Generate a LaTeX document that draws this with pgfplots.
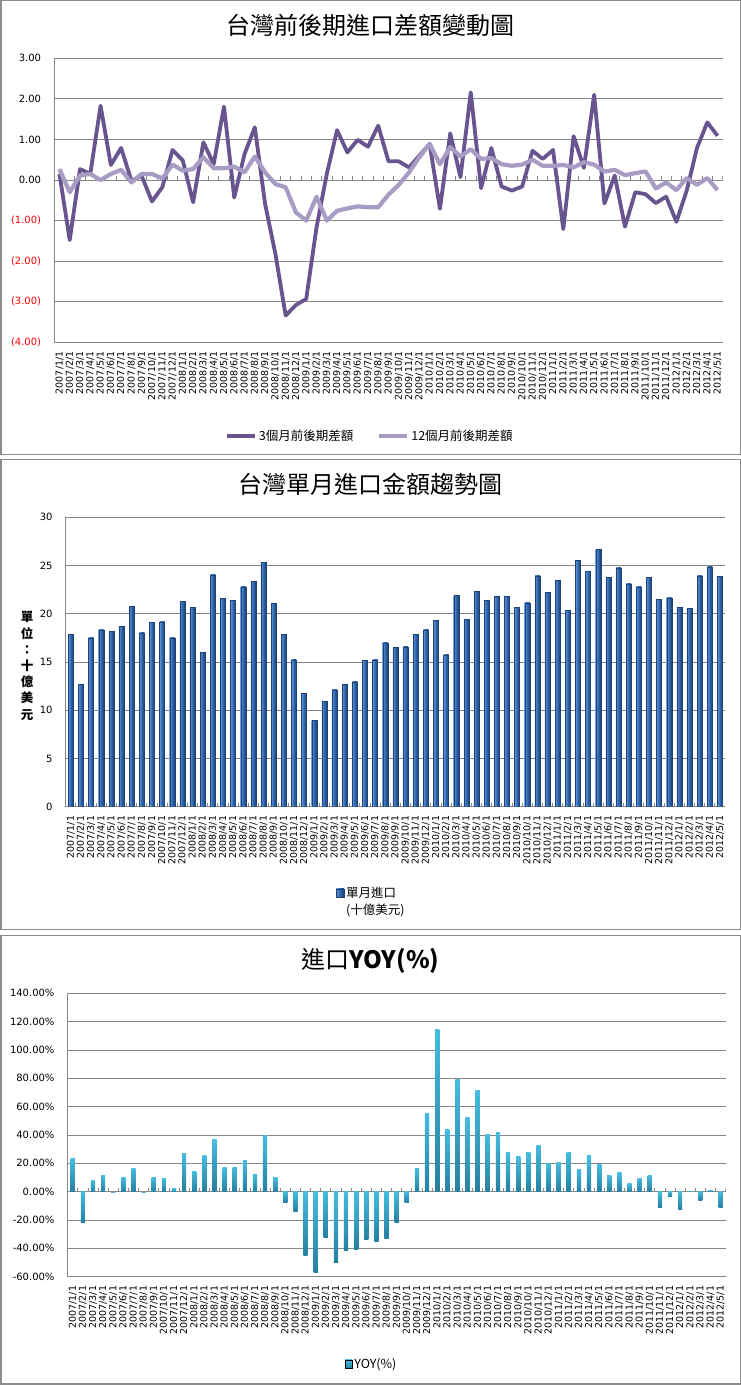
\documentclass[border=0pt]{standalone}
\usepackage{fontspec}
\usepackage{pgfplots}
\usepackage{pgfplotstable}
\pgfplotsset{compat=1.18}
\setmainfont{DejaVu Sans}
\newfontfamily\cjk{Noto Sans CJK TC}
\definecolor{gridgray}{HTML}{878787}
\definecolor{frameg}{HTML}{8C8C8C}
\definecolor{darkline}{HTML}{68548F}
\definecolor{lightline}{HTML}{A99CC4}
\definecolor{bluehi}{HTML}{6294D8}
\definecolor{bluelo}{HTML}{1C4276}
\definecolor{bluemid}{HTML}{2F64AA}
\definecolor{cyantop}{HTML}{45BCE0}
\definecolor{cyanbot}{HTML}{2580A0}

\pgfplotstableread{
idx d3 d12 imp yoy
0 0.15 0.27 17.90 23.1
1 -1.48 -0.30 12.70 -21.6
2 0.27 0.11 17.50 7.8
3 0.15 0.15 18.35 11.3
4 1.83 0.00 18.15 -0.9
5 0.37 0.15 18.67 9.9
6 0.79 0.25 20.74 16.2
7 -0.02 -0.06 18.04 -0.9
8 0.10 0.15 19.08 9.9
9 -0.53 0.15 19.15 9.2
10 -0.18 0.04 17.52 2.1
11 0.74 0.38 21.26 26.8
12 0.48 0.23 20.64 14.1
13 -0.55 0.27 15.97 25.4
14 0.93 0.56 24.02 36.7
15 0.39 0.29 21.57 16.9
16 1.81 0.29 21.40 16.9
17 -0.43 0.33 22.81 21.9
18 0.64 0.19 23.33 12.0
19 1.30 0.58 25.34 39.3
20 -0.59 0.19 21.05 9.9
21 -1.82 -0.10 17.84 -7.5
22 -3.34 -0.18 15.21 -13.9
23 -3.08 -0.80 11.72 -44.9
24 -2.93 -1.00 8.92 -56.9
25 -1.17 -0.41 10.89 -32.2
26 0.15 -1.00 12.13 -49.9
27 1.23 -0.76 12.69 -41.2
28 0.68 -0.70 12.96 -40.5
29 0.99 -0.65 15.17 -34.1
30 0.82 -0.67 15.24 -35.1
31 1.34 -0.67 17.00 -32.9
32 0.46 -0.36 16.49 -21.6
33 0.46 -0.12 16.59 -7.5
34 0.31 0.19 17.84 16.7
35 0.60 0.56 18.35 55.5
36 0.89 0.89 19.29 114.4
37 -0.71 0.39 15.76 44.2
38 1.15 0.81 21.88 79.1
39 0.07 0.58 19.39 52.2
40 2.16 0.76 22.30 71.1
41 -0.20 0.52 21.36 40.0
42 0.79 0.54 21.78 42.1
43 -0.16 0.39 21.78 27.3
44 -0.26 0.35 20.64 24.5
45 -0.16 0.38 21.15 27.3
46 0.72 0.50 23.92 32.9
47 0.52 0.35 22.19 20.2
48 0.74 0.35 23.44 20.9
49 -1.21 0.37 20.33 28.0
50 1.08 0.31 25.51 16.0
51 0.30 0.44 24.37 25.2
52 2.10 0.38 26.65 19.3
53 -0.58 0.21 23.75 11.1
54 0.11 0.25 24.78 13.2
55 -1.15 0.12 23.12 5.6
56 -0.30 0.17 22.81 9.6
57 -0.35 0.21 23.75 11.1
58 -0.57 -0.21 21.47 -11.1
59 -0.41 -0.06 21.67 -3.1
60 -1.03 -0.25 20.64 -12.5
61 -0.26 0.05 20.53 0.7
62 0.79 -0.12 23.92 -6.1
63 1.42 0.05 24.85 1.2
64 1.09 -0.25 23.85 -11.1
}\data

\pgfplotsset{common/.style={
  scale only axis, anchor=south west,
  xmin=-0.5, xmax=64.5,
  axis x line*=bottom, axis y line*=left,
  axis line style={draw=gridgray, line width=0.8pt, -},
  ymajorgrids, major grid style={draw=gridgray, line width=0.8pt},
  major tick length=0pt,
  xtick={0,...,64},
  xticklabels={2007/1/1,2007/2/1,2007/3/1,2007/4/1,2007/5/1,2007/6/1,2007/7/1,2007/8/1,2007/9/1,2007/10/1,2007/11/1,2007/12/1,
    2008/1/1,2008/2/1,2008/3/1,2008/4/1,2008/5/1,2008/6/1,2008/7/1,2008/8/1,2008/9/1,2008/10/1,2008/11/1,2008/12/1,
    2009/1/1,2009/2/1,2009/3/1,2009/4/1,2009/5/1,2009/6/1,2009/7/1,2009/8/1,2009/9/1,2009/10/1,2009/11/1,2009/12/1,
    2010/1/1,2010/2/1,2010/3/1,2010/4/1,2010/5/1,2010/6/1,2010/7/1,2010/8/1,2010/9/1,2010/10/1,2010/11/1,2010/12/1,
    2011/1/1,2011/2/1,2011/3/1,2011/4/1,2011/5/1,2011/6/1,2011/7/1,2011/8/1,2011/9/1,2011/10/1,2011/11/1,2011/12/1,
    2012/1/1,2012/2/1,2012/3/1,2012/4/1,2012/5/1},
  xticklabel style={rotate=90, anchor=east, inner xsep=9pt, inner ysep=0pt, font=\fontsize{9.5}{10}\selectfont},
  yticklabel style={anchor=east, inner xsep=13pt, font=\fontsize{10}{12}\selectfont},
  legend style={draw=none, fill=none, font=\cjk\fontsize{12.5}{14}\selectfont, inner sep=0pt},
}}

\begin{document}
\begin{tikzpicture}[x=1pt,y=1pt]
\path[use as bounding box] (0,0) rectangle (741,1385);
\draw[frameg, line width=1.5pt] (0.75,930.5) rectangle (740.25,1384.25);
\draw[frameg, line width=1.5pt] (0.75,455.5) rectangle (740.25,925.5);
\draw[frameg, line width=1.5pt] (0.75,0.75) rectangle (740.25,449.5);

\node[font=\cjk\fontsize{24}{26}\selectfont] at (370.5,1360) {台灣前後期進口差額變動圖};
\node[font=\cjk\fontsize{24}{26}\selectfont] at (370.5,901) {台灣單月進口金額趨勢圖};
\node[font=\cjk\fontsize{24}{26}\selectfont] at (370.5,424) {進口\textbf{YOY(\%)}};
\node[font=\cjk\bfseries\fontsize{12.5}{16.2}\selectfont, align=center] at (27,719) {單\\位\\：\\十\\億\\美\\元};
\node[font=\cjk\fontsize{12.5}{14}\selectfont, anchor=west, inner sep=0pt] at (346,475) {(十億美元)};

% Panel 1
\begin{axis}[common, at={(54.3pt,1042.7pt)}, width=668.4pt, height=284pt,
  ymin=-4, ymax=3, ytick={-4,...,3},
  yticklabels={\textcolor{red}{(4.00)},\textcolor{red}{(3.00)},\textcolor{red}{(2.00)},\textcolor{red}{(1.00)},0.00,1.00,2.00,3.00},
  legend columns=2,
  legend style={at={(0.472,-0.33)}, anchor=center, /tikz/every even column/.append style={column sep=22pt}},
]
\pgfplotsinvokeforeach{-0.5,0.5,...,64.5}{\draw[gridgray, line width=0.8pt] (axis cs:#1,0) -- ++(0pt,4pt);}
\addplot[no markers, color=darkline, line width=3.8pt, line join=round,
  legend image code/.code={\draw[darkline, line width=4pt] (0pt,0pt) -- (28pt,0pt);}]
  table[x=idx, y=d3]{\data};
\addlegendentry{3個月前後期差額}
\addplot[no markers, color=lightline, line width=4.2pt, line join=round,
  legend image code/.code={\draw[lightline, line width=4pt] (0pt,0pt) -- (28pt,0pt);}]
  table[x=idx, y=d12]{\data};
\addlegendentry{12個月前後期差額}
\end{axis}

% Panel 2
\begin{axis}[common, at={(65.7pt,578.3pt)}, width=659.3pt, height=289.4pt,
  ymin=0, ymax=30, ytick={0,5,...,30},
  yticklabels={0,5,10,15,20,25,30},
  legend style={at={(0.457,-0.298)}, anchor=center},
]
\pgfplotsinvokeforeach{-0.5,0.5,...,64.5}{\draw[gridgray, line width=0.8pt] (axis cs:#1,0) -- ++(0pt,4pt);}
\pgfplotsinvokeforeach{0,...,64}{
\addplot[ybar, bar shift=0pt, bar width=5pt, draw=bluelo, line width=0.3pt,
  left color=bluehi, right color=bluelo, middle color=bluemid, forget plot,
  restrict x to domain=#1:#1]
  table[x=idx, y=imp]{\data};
}
\addlegendimage{legend image code/.code={\path[left color=bluehi, right color=bluelo, middle color=bluemid, draw=bluelo] (0pt,-4pt) rectangle (8pt,4pt);}}
\addlegendentry{單月進口}
\end{axis}

% Panel 3
\begin{axis}[common, at={(67.7pt,108.3pt)}, width=658pt, height=283.4pt,
  ymin=-60, ymax=140, ytick={-60,-40,...,140},
  yticklabels={-60.00\%,-40.00\%,-20.00\%,0.00\%,20.00\%,40.00\%,60.00\%,80.00\%,100.00\%,120.00\%,140.00\%},
  legend style={at={(0.462,-0.308)}, anchor=center},
]
\pgfplotsinvokeforeach{-0.5,0.5,...,64.5}{\draw[gridgray, line width=0.8pt] (axis cs:#1,0) -- ++(0pt,4pt);}
\pgfplotsinvokeforeach{0,...,64}{
\addplot[ybar, bar shift=0pt, bar width=4.2pt, draw=none, top color=cyantop, bottom color=cyanbot,
  forget plot, restrict x to domain=#1:#1]
  table[x=idx, y=yoy]{\data};
}
\addlegendimage{legend image code/.code={\path[top color=cyantop, bottom color=cyanbot] (0pt,-4pt) rectangle (7pt,4pt);}}
\addlegendentry{YOY(\%)}
\end{axis}
\end{tikzpicture}
\end{document}
